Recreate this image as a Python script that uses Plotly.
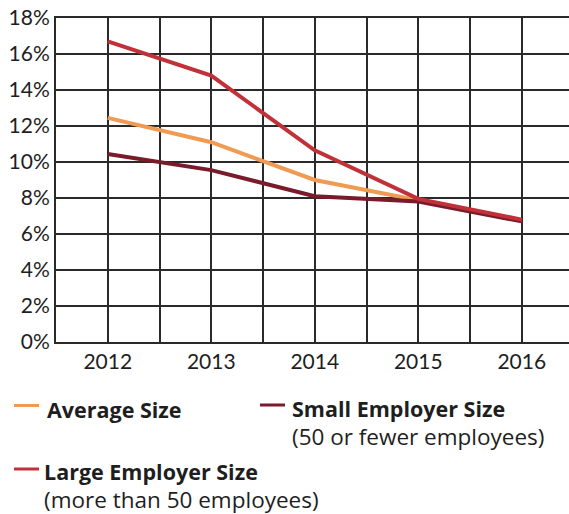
import plotly.graph_objects as go

years = [2012, 2013, 2014, 2015, 2016]
average_size = [12.45, 11.1, 9.0, 7.85, 6.75]
small_employer = [10.45, 9.55, 8.1, 7.8, 6.7]
large_employer = [16.7, 14.8, 10.65, 7.95, 6.8]
y_ticks = [0, 2, 4, 6, 8, 10, 12, 14, 16, 18]

ORANGE = "#F09A52"
MAROON = "#7A1B2B"
RED = "#C0313A"
GRID = "#2a2a2a"
FONT = "Lato"
LEGEND_FONT = "Open Sans"

fig = go.Figure()
for vals, color in [(average_size, ORANGE), (small_employer, MAROON), (large_employer, RED)]:
    fig.add_trace(go.Scatter(x=years, y=vals, mode="lines",
                             line=dict(color=color, width=4), showlegend=False,
                             hoverinfo="skip"))

# half-year gridlines, labels only on whole years
x_tickvals = [2011.5 + 0.5 * i for i in range(11)]
x_ticktext = [str(int(v)) if v == int(v) else "" for v in x_tickvals]

fig.update_layout(
    width=569, height=514,
    margin=dict(l=56, r=0, t=18, b=172),
    paper_bgcolor="white", plot_bgcolor="white",
    font=dict(family=FONT, size=21, color="#1e1e1e"),
    xaxis=dict(range=[2011.5, 2011.5 + 513 / 103.5], tickvals=x_tickvals,
               ticktext=x_ticktext, showgrid=True, gridcolor=GRID, gridwidth=2,
               showline=True, linecolor=GRID, linewidth=2, mirror=True,
               zeroline=False, ticks="", ticklen=0),
    yaxis=dict(range=[0, 18], tickvals=y_ticks,
               ticktext=[f"{v}%" for v in y_ticks], showgrid=True,
               gridcolor=GRID, gridwidth=2, showline=True, linecolor=GRID,
               linewidth=2, zeroline=False, ticks="", ticklen=0),
)

# custom legend below the plot (pixel positions converted to paper coords)
PW, PH, L, B, H = 513, 324, 56, 172, 514


def px(x):
    return (x - L) / PW


def py(y):
    return (H - B - y) / PH


legend_items = [
    (ORANGE, 14, 39, 405.5, "Average Size", None, 45, 409),
    (MAROON, 260, 285, 405, "Small Employer Size", "(50 or fewer employees)", 290, 423),
    (RED, 14, 39, 469, "Large Employer Size", "(more than 50 employees)", 42, 486),
]
for color, x0, x1, ly, label, sub, tx, ty in legend_items:
    fig.add_shape(type="line", xref="paper", yref="paper",
                  x0=px(x0), x1=px(x1), y0=py(ly), y1=py(ly),
                  line=dict(color=color, width=3))
    text = f"<b>{label}</b>"
    if sub:
        text += f"<br><span style='font-size:22.5px'>{sub}</span>"
    fig.add_annotation(xref="paper", yref="paper", x=px(tx), y=py(ty),
                       text=text, showarrow=False, xanchor="left", align="left",
                       yanchor="middle", font=dict(family=LEGEND_FONT, size=21.5))

fig.write_html("out.html")
